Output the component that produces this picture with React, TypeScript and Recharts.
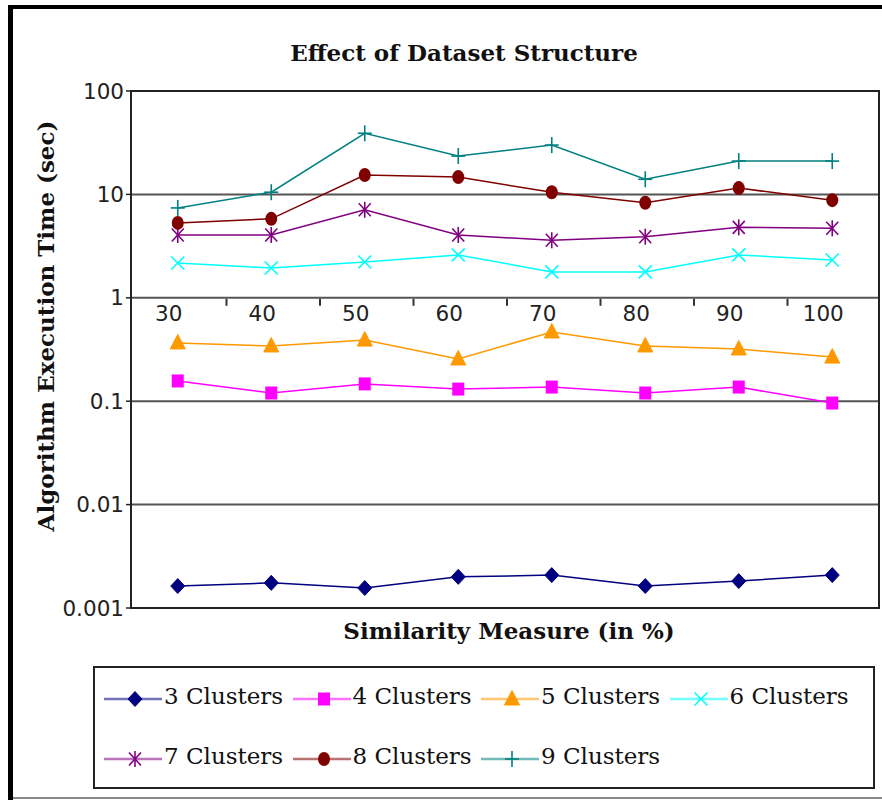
import React from 'react';
import {
  LineChart,
  Line,
  XAxis,
  YAxis,
  CartesianGrid,
  ReferenceArea,
  ReferenceDot,
  Legend,
} from 'recharts';

// ---- data ----
const similarity = [30, 40, 50, 60, 70, 80, 90, 100];
const xTickLabels = ['30', '40', '50', '60', '70', '80', '90', '100'];
const xTickMarks = [35, 45, 55, 65, 75, 85, 95];
const yTicks = [0.001, 0.01, 0.1, 1, 10, 100];

const clusters3 = [0.00163, 0.00175, 0.00156, 0.002, 0.00208, 0.00163, 0.00182, 0.00208];
const clusters4 = [0.157, 0.12, 0.147, 0.131, 0.137, 0.12, 0.137, 0.096];
const clusters5 = [0.366, 0.342, 0.39, 0.256, 0.467, 0.342, 0.32, 0.267];
const clusters6 = [2.17, 1.94, 2.22, 2.6, 1.78, 1.78, 2.6, 2.32];
const clusters7 = [4.05, 4.05, 7.1, 4.05, 3.6, 3.9, 4.8, 4.7];
const clusters8 = [5.3, 5.8, 15.4, 14.7, 10.5, 8.3, 11.5, 8.8];
const clusters9 = [7.4, 10.5, 39, 23.5, 30, 14, 21, 21];

const seriesNames = ['3 Clusters', '4 Clusters', '5 Clusters', '6 Clusters', '7 Clusters', '8 Clusters', '9 Clusters'];

type Kind = 'diamond' | 'square' | 'triangle' | 'x' | 'asterisk' | 'circle' | 'plus';

const series: { key: string; name: string; values: number[]; color: string; kind: Kind }[] = [
  { key: 'c3', name: seriesNames[0], values: clusters3, color: '#000080', kind: 'diamond' },
  { key: 'c4', name: seriesNames[1], values: clusters4, color: '#FF00FF', kind: 'square' },
  { key: 'c5', name: seriesNames[2], values: clusters5, color: '#FF9900', kind: 'triangle' },
  { key: 'c6', name: seriesNames[3], values: clusters6, color: '#00FFFF', kind: 'x' },
  { key: 'c7', name: seriesNames[4], values: clusters7, color: '#800080', kind: 'asterisk' },
  { key: 'c8', name: seriesNames[5], values: clusters8, color: '#800000', kind: 'circle' },
  { key: 'c9', name: seriesNames[6], values: clusters9, color: '#008080', kind: 'plus' },
];

const data = similarity.map((s, i) => {
  const row: Record<string, number> = { x: s };
  series.forEach((se) => {
    row[se.key] = se.values[i];
  });
  return row;
});

function Marker({ kind, cx, cy, color }: { kind: Kind; cx: number; cy: number; color: string }) {
  if (cx == null || cy == null || isNaN(cx) || isNaN(cy)) return null;
  switch (kind) {
    case 'diamond':
      return (
        <polygon
          points={`${cx},${cy - 7.5} ${cx + 7},${cy} ${cx},${cy + 7.5} ${cx - 7},${cy}`}
          fill={color}
          stroke={color}
        />
      );
    case 'square':
      return <rect x={cx - 6} y={cy - 6.5} width={12} height={13} fill={color} />;
    case 'triangle':
      return (
        <polygon
          points={`${cx},${cy - 8.5} ${cx + 7.5},${cy + 6} ${cx - 7.5},${cy + 6}`}
          fill={color}
          stroke={color}
        />
      );
    case 'x':
      return (
        <g stroke={color} strokeWidth={1.6}>
          <line x1={cx - 6.5} y1={cy - 6.5} x2={cx + 6.5} y2={cy + 6.5} />
          <line x1={cx - 6.5} y1={cy + 6.5} x2={cx + 6.5} y2={cy - 6.5} />
        </g>
      );
    case 'asterisk':
      return (
        <g stroke={color} strokeWidth={1.6}>
          <line x1={cx} y1={cy - 8} x2={cx} y2={cy + 8} />
          <line x1={cx - 6} y1={cy - 6.5} x2={cx + 6} y2={cy + 6.5} />
          <line x1={cx - 6} y1={cy + 6.5} x2={cx + 6} y2={cy - 6.5} />
        </g>
      );
    case 'circle':
      return <ellipse cx={cx} cy={cy} rx={6} ry={7} fill={color} />;
    case 'plus':
      return (
        <g stroke={color} strokeWidth={1.6}>
          <line x1={cx - 7} y1={cy} x2={cx + 7} y2={cy} />
          <line x1={cx} y1={cy - 8} x2={cx} y2={cy + 8} />
        </g>
      );
    default:
      return null;
  }
}

const renderLegend = () => (
  <div style={{ position: 'relative', width: 882, height: 181 }}>
    <div
      style={{
        position: 'absolute',
        left: 93,
        top: 58,
        width: 778,
        height: 119,
        border: '2px solid #222',
        background: '#fff',
      }}
    >
      {series.map((s, i) => {
        const col = i % 4;
        const row = Math.floor(i / 4);
        return (
          <div
            key={s.key}
            style={{
              position: 'absolute',
              left: 9 + col * 188.5,
              top: 13 + row * 60,
              height: 36,
              display: 'flex',
              alignItems: 'center',
              whiteSpace: 'nowrap',
            }}
          >
            <svg width={58} height={36} style={{ display: 'block' }}>
              <line x1={0} x2={58} y1={18} y2={18} stroke={s.color} strokeWidth={2.5} opacity={0.55} />
              <Marker kind={s.kind} cx={31} cy={18} color={s.color} />
            </svg>
            <span
              style={{
                fontFamily: 'DejaVu Serif',
                fontSize: 23,
                color: '#111',
                marginLeft: 2,
                lineHeight: '36px',
                position: 'relative',
                top: -3,
              }}
            >
              {s.name}
            </span>
          </div>
        );
      })}
    </div>
  </div>
);

export default function App() {
  return (
    <div style={{ position: 'absolute', left: 0, top: 0, width: 882, height: 800, background: '#fff' }}>
      <div style={{ position: 'absolute', left: 8, top: 5, width: 874, height: 4, background: '#000' }} />
      <div style={{ position: 'absolute', left: 8, top: 5, width: 5, height: 795, background: '#000' }} />
      <div style={{ position: 'absolute', left: 13, top: 797, width: 869, height: 2, background: '#888' }} />
      <div style={{ position: 'absolute', left: 0, top: 0 }}>
        <LineChart width={882} height={800} data={data} margin={{ top: 91, right: 3, left: 71, bottom: 11 }}>
          <XAxis dataKey="x" type="number" domain={[25, 105]} hide allowDataOverflow />
          <YAxis
            scale="log"
            type="number"
            domain={[0.001, 100]}
            ticks={yTicks}
            allowDataOverflow
            interval={0}
            width={60}
            tickSize={5}
            tickFormatter={(v: number) => String(v)}
            tick={{ fontFamily: 'DejaVu Sans', fontSize: 21.5, fill: '#222' }}
            tickLine={{ stroke: '#222', strokeWidth: 1.5 }}
            axisLine={{ stroke: '#222', strokeWidth: 2 }}
          />
          <CartesianGrid vertical={false} stroke="#555" strokeWidth={2} />
          <ReferenceArea
            x1={25}
            x2={105}
            y1={0.001}
            y2={100}
            fill="none"
            fillOpacity={0}
            stroke="#222"
            strokeWidth={2}
            ifOverflow="visible"
          />
          {xTickMarks.map((t) => (
            <ReferenceDot
              key={`tm-${t}`}
              x={t}
              y={1}
              r={0}
              ifOverflow="visible"
              shape={(p: any) => (
                <line x1={p.cx + 2} y1={p.cy + 1} x2={p.cx + 2} y2={p.cy + 8} stroke="#333" strokeWidth={2} />
              )}
            />
          ))}
          {similarity.map((v, i) => (
            <ReferenceDot
              key={`tl-${v}`}
              x={v}
              y={1}
              r={0}
              ifOverflow="visible"
              shape={(p: any) => (
                <text
                  x={p.cx - 9}
                  y={p.cy + 23}
                  textAnchor="middle"
                  fontFamily="DejaVu Sans"
                  fontSize={21.5}
                  fill="#222"
                >
                  {xTickLabels[i]}
                </text>
              )}
            />
          ))}
          {series.map((s) => (
            <Line
              key={s.key}
              dataKey={s.key}
              name={s.name}
              stroke={s.color}
              strokeWidth={1.5}
              isAnimationActive={false}
              activeDot={false}
              dot={(p: any) => (
                <Marker key={`${s.key}-${p.index}`} kind={s.kind} cx={p.cx} cy={p.cy} color={s.color} />
              )}
            />
          ))}
          <Legend verticalAlign="bottom" content={renderLegend} wrapperStyle={{ left: 0, width: 882 }} />
          <text
            x={464}
            y={61}
            textAnchor="middle"
            fontFamily="DejaVu Serif"
            fontWeight="bold"
            fontSize={23}
            fill="#111"
          >
            Effect of Dataset Structure
          </text>
          <text
            x={509}
            y={639}
            textAnchor="middle"
            fontFamily="DejaVu Serif"
            fontWeight="bold"
            fontSize={23}
            fill="#111"
          >
            Similarity Measure (in %)
          </text>
          <text
            x={54}
            y={326}
            transform="rotate(-90 54 326)"
            textAnchor="middle"
            fontFamily="DejaVu Serif"
            fontWeight="bold"
            fontSize={23}
            fill="#111"
          >
            Algorithm Execution Time (sec)
          </text>
        </LineChart>
      </div>
    </div>
  );
}
